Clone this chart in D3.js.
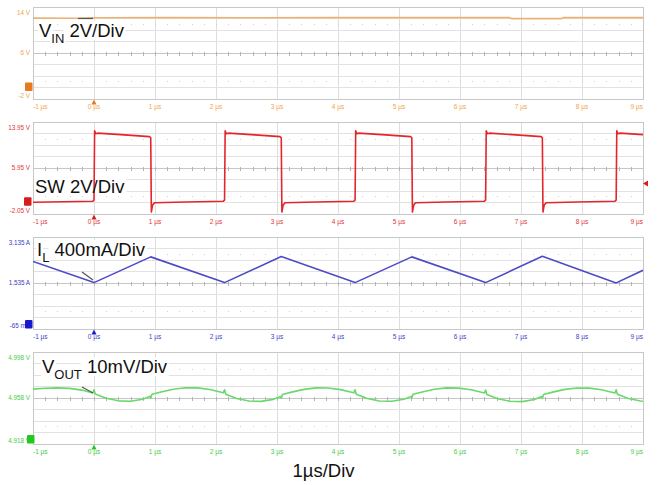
<!DOCTYPE html>
<html><head><meta charset="utf-8">
<script src="https://cdn.jsdelivr.net/npm/d3@7"></script>
<style>
html,body{margin:0;padding:0;background:#fff;}
svg{display:block;font-family:"Liberation Sans",Arial,sans-serif;}
</style></head><body>
<svg id="c" width="657" height="485"></svg>
<script>
// ---------- data ----------
const timeTicks = [-1,0,1,2,3,4,5,6,7,8,9];
const timeTickLabels = ["-1 µs","0 µs","1 µs","2 µs","3 µs","4 µs","5 µs","6 µs","7 µs","8 µs","9 µs"];
const channels = ["VIN","SW","IL","VOUT"];
const yRangeVin  = [-2, 14];
const yRangeSw   = [-2.05, 13.95];
const yRangeIl   = [-0.065, 3.135];
const yRangeVout = [4.918, 4.998];
const yLabelsVin  = ["14 V","6 V","-2 V"];
const yLabelsSw   = ["13.95 V","5.95 V","-2.05 V"];
const yLabelsIl   = ["3.135 A","1.535 A","-65 mA"];
const yLabelsVout = ["4.998 V","4.958 V","4.918 V"];
const titleVin  = ["V","IN"," 2V/Div"];
const titleSw   = ["SW 2V/Div","",""];
const titleIl   = ["I","L"," 400mA/Div"];
const titleVout = ["V","OUT"," 10mV/Div"];
const xTitle = "1µs/Div";
const swTriggerLevel = 3.2;

const vin = [[-1,12.05],[-0.3,12.04],[0,12.12],[1.2,12.15],[2.5,12.13],[4,12.14],[5.5,12.15],[6.8,12.15],[6.85,11.96],[7.66,11.96],[7.7,12.15],[9,12.15]];

const sw = [
 [-1.00,-0.08],[-0.50,0.00],[-0.02,0.08],[0.00,0.30],[0.01,12.40],[0.03,11.90],[0.06,12.00],[0.50,11.70],[0.91,11.40],[0.93,11.20],[0.94,-1.80],[0.96,-0.60],[0.99,-0.18],[1.50,-0.05],[2.12,0.10],
 [2.14,0.30],[2.15,12.40],[2.17,11.90],[2.20,12.00],[2.64,11.70],[3.05,11.40],[3.07,11.20],[3.08,-1.80],[3.10,-0.60],[3.13,-0.18],[3.64,-0.05],[4.26,0.10],
 [4.28,0.30],[4.29,12.40],[4.31,11.90],[4.34,12.00],[4.78,11.70],[5.19,11.40],[5.21,11.20],[5.22,-1.80],[5.24,-0.60],[5.27,-0.18],[5.78,-0.05],[6.40,0.10],
 [6.42,0.30],[6.43,12.40],[6.45,11.90],[6.48,12.00],[6.92,11.70],[7.33,11.40],[7.35,11.20],[7.36,-1.80],[7.38,-0.60],[7.41,-0.18],[7.92,-0.05],[8.54,0.10],
 [8.56,0.30],[8.57,12.40],[8.59,11.90],[8.62,12.00],[9.00,11.75]
];

const il = [[-1,2.28],[0,1.54],[0.93,2.44],[2.14,1.54],[3.07,2.45],[4.28,1.54],[5.21,2.44],[6.42,1.54],[7.35,2.46],[8.56,1.53],[9,1.97]];

const vout = [
 [-1.00,4.9655],[-0.80,4.9663],[-0.60,4.9666],[-0.40,4.9662],[-0.20,4.9647],[-0.02,4.9622],
 [0.00,4.9650],[0.02,4.9612],[0.20,4.9575],[0.40,4.9553],[0.60,4.9550],[0.80,4.9567],[0.92,4.9593],[0.93,4.9575],[0.95,4.9610],[1.10,4.9630],[1.30,4.9655],[1.50,4.9667],[1.70,4.9666],[1.90,4.9652],[2.12,4.9624],
 [2.14,4.9650],[2.16,4.9610],[2.34,4.9573],[2.54,4.9551],[2.74,4.9548],[2.94,4.9566],[3.06,4.9591],[3.07,4.9576],[3.09,4.9609],[3.24,4.9629],[3.44,4.9653],[3.64,4.9666],[3.84,4.9665],[4.04,4.9651],[4.26,4.9623],
 [4.28,4.9649],[4.30,4.9611],[4.48,4.9574],[4.68,4.9552],[4.88,4.9549],[5.08,4.9567],[5.20,4.9592],[5.21,4.9577],[5.23,4.9610],[5.38,4.9630],[5.58,4.9654],[5.78,4.9666],[5.98,4.9664],[6.18,4.9650],[6.40,4.9622],
 [6.42,4.9648],[6.44,4.9609],[6.62,4.9572],[6.82,4.9549],[7.02,4.9546],[7.22,4.9565],[7.34,4.9590],[7.35,4.9575],[7.37,4.9608],[7.52,4.9629],[7.72,4.9653],[7.92,4.9665],[8.12,4.9664],[8.32,4.9650],[8.54,4.9622],
 [8.56,4.9649],[8.58,4.9610],[8.76,4.9573],[8.96,4.9551],[9.00,4.9550]
];

// ---------- layout / styles ----------
const svg = d3.select("#c");
const left = 33, right = 643;
const x = d3.scaleLinear().domain([-1, 9]).range([left, right]);
const panelH = 91.5;
const panels = [
 {name:channels[0], top:7,   range:yRangeVin,  labels:yLabelsVin,  title:titleVin,  data:vin,
  trace:"#eab276", text:"#f2a448", marker:"#e67a1c", tpos:[39,37], callout:[[78,18.5],[93,18.5]]},
 {name:channels[1], top:122, range:yRangeSw,   labels:yLabelsSw,   title:titleSw,   data:sw,
  trace:"#e3262a", text:"#e0363a", marker:"#d81c1c", tpos:[35,193], callout:null},
 {name:channels[2], top:237, range:yRangeIl,   labels:yLabelsIl,   title:titleIl,   data:il,
  trace:"#4c4cc6", text:"#4040c8", marker:"#1818d0", tpos:[37,256], callout:[[82,272],[93,280]]},
 {name:channels[3], top:352, range:yRangeVout, labels:yLabelsVout, title:titleVout, data:vout,
  trace:"#6ad86a", text:"#46cc46", marker:"#20c820", tpos:[42,373], callout:[[82,387],[93,393]]}
];

const defs = svg.append("defs");

panels.forEach((p, i) => {
  const top = p.top, bottom = p.top + panelH;
  const y = d3.scaleLinear().domain(p.range).range([bottom, top]);
  const g = svg.append("g");
  defs.append("clipPath").attr("id","clip"+i).append("rect")
    .attr("x", left).attr("y", top - 4).attr("width", right - left).attr("height", panelH + 8);

  // grid
  const grid = g.append("g").attr("shape-rendering","crispEdges");
  timeTicks.slice(1, -1).forEach(t => {
    grid.append("line").attr("x1", Math.round(x(t))+0.5).attr("x2", Math.round(x(t))+0.5)
      .attr("y1", top).attr("y2", bottom).attr("stroke","#dedede");
  });
  d3.range(1, 8).forEach(k => {
    const yy = Math.round(top + k * panelH / 8) + 0.5;
    grid.append("line").attr("x1", left).attr("x2", right).attr("y1", yy).attr("y2", yy)
      .attr("stroke", k === 4 ? "#c6c6c6" : "#e2e2e2");
  });
  const minor = d3.range(-1, 9.001, 0.2);
  const yc = Math.round(top + panelH/2) + 0.5;
  minor.forEach(t => {
    const xx = Math.round(x(t)) + 0.5;
    grid.append("line").attr("x1", xx).attr("x2", xx).attr("y1", yc-2).attr("y2", yc+2).attr("stroke","#b4b4b4");
    [1.5, 6.5].forEach(k => {
      grid.append("rect").attr("x", xx-0.5).attr("y", Math.round(top + k*panelH/8)).attr("width",1).attr("height",1).attr("fill","#cfcfcf");
    });
  });
  grid.append("rect").attr("x", left+0.5).attr("y", Math.round(top)+0.5)
    .attr("width", right-left).attr("height", Math.round(panelH))
    .attr("fill","none").attr("stroke","#c8c8c8");

  // white label background layer (under the trace)
  const bgLayer = g.append("g");

  // trace
  const line = d3.line().x(d => x(d[0])).y(d => y(d[1]));
  g.append("path").datum(p.data).attr("clip-path","url(#clip"+i+")")
    .attr("d", line).attr("fill","none").attr("stroke", p.trace)
    .attr("stroke-width", 1.6).attr("stroke-linejoin","round");

  if (p.callout) {
    g.append("line").attr("x1", p.callout[0][0]).attr("y1", p.callout[0][1])
      .attr("x2", p.callout[1][0]).attr("y2", p.callout[1][1])
      .attr("stroke","#555").attr("stroke-width", 1.2);
  }

  // channel label text
  const txt = g.append("text").attr("x", p.tpos[0]).attr("y", p.tpos[1])
    .attr("font-size", 18.5).attr("fill","#111");
  const main = txt.append("tspan").text(p.title[0]);
  let sub = null, rest = null;
  if (p.title[1]) sub = txt.append("tspan").attr("font-size", 13).attr("dy", 5.5).text(p.title[1]);
  if (p.title[2]) rest = txt.append("tspan").attr("dy", p.title[1] ? -5.5 : 0).text(p.title[2]);
  [main, sub, rest].forEach(s => {
    if (!s) return;
    const b = s.node().getBBox();
    bgLayer.append("rect").attr("x", b.x - 1).attr("y", b.y + 1).attr("width", b.width + 2).attr("height", b.height - 2)
      .attr("fill","#fff");
  });

  // y labels
  const ly = [top + 7.5, top + panelH/2 + 2, bottom - 0.5];
  p.labels.forEach((s, k) => {
    g.append("text").attr("x", 30).attr("y", ly[k]).attr("text-anchor","end")
      .attr("font-size", 6.3).attr("fill", p.text).text(s);
  });
  // x labels
  timeTicks.forEach((t, k) => {
    const anchor = k === 0 ? "start" : (k === timeTicks.length - 1 ? "end" : "middle");
    const xx = k === 0 ? left : (k === timeTicks.length - 1 ? right : x(t));
    g.append("text").attr("x", xx).attr("y", bottom + 10).attr("text-anchor", anchor)
      .attr("font-size", 6.5).attr("fill", p.text).text(timeTickLabels[k]);
  });

  // trigger position arrow
  const x0 = x(0);
  g.append("path").attr("d", `M${x0},${bottom+1} L${x0-2.5},${bottom+6} L${x0+2.5},${bottom+6} Z`).attr("fill", p.marker);

  // ground marker
  let gy = y(0);
  gy = Math.min(Math.max(gy, top + 4), bottom - 4);
  const mx = i === 1 ? 24 : (i === 3 ? 27 : 25);
  g.append("rect").attr("x", mx).attr("y", gy - 4.5).attr("width", 7.5).attr("height", 8.5)
    .attr("rx", 1).attr("fill", p.marker);

  if (i === 1) {
    const ty = y(swTriggerLevel);
    g.append("path").attr("d", `M${right},${ty} L${right+5},${ty-3} L${right+5},${ty+3} Z`).attr("fill", p.marker);
  }
});

svg.append("text").attr("x", 323.5).attr("y", 477).attr("text-anchor","middle")
  .attr("font-size", 18.5).attr("fill","#111").text(xTitle);
</script>
</body></html>
